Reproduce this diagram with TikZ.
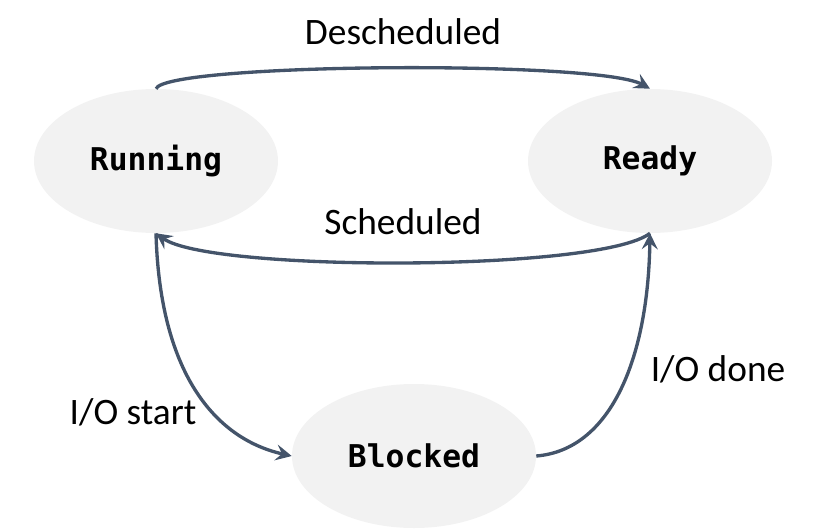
\documentclass[tikz,border=0pt]{standalone}
\usepackage{fontspec}
\setmainfont{Carlito}
\setmonofont{DejaVu Sans Mono}
\usetikzlibrary{arrows.meta,shapes.geometric}
\definecolor{edgeblue}{HTML}{44546A}
\definecolor{statefill}{HTML}{F2F2F2}

\begin{document}
\begin{tikzpicture}[x=0.75pt,y=-0.75pt, state/.style={ellipse,fill=statefill,minimum width=183pt,minimum height=108pt,inner sep=0pt,font=\fontsize{23.5}{27}\selectfont\ttfamily\bfseries}, line/.style={draw=edgeblue,line width=2.5pt,-{Stealth[length=12pt,width=12pt,inset=4.5pt]}}, lbl/.style={font=\fontsize{28}{32}\selectfont,inner sep=0pt}]
\useasboundingbox (0,0) rectangle (830,531);
\node[state] (running) at (156,161) {Running};
\node[state] (ready) at (650,161) {Ready};
\node[state] (blocked) at (414,456) {Blocked};
\draw[line] (running.north) .. controls (166,63) and (598,60) .. (ready.north);
\draw[line] (ready.south) .. controls (600,272) and (210,272) .. (running.south);
\draw[line] (running.south) .. controls (160,380) and (220,440) .. (blocked.west);
\draw[line] (blocked.east) .. controls (610,450) and (648,360) .. (ready.south);
\node[lbl] (deslbl) at (403,32) {Descheduled};
\node[lbl] (schlbl) at (403,222) {Scheduled};
\node[lbl] (startlbl) at (133,412) {I/O start};
\node[lbl] (donelbl) at (718,369) {I/O done};
\end{tikzpicture}
\end{document}
